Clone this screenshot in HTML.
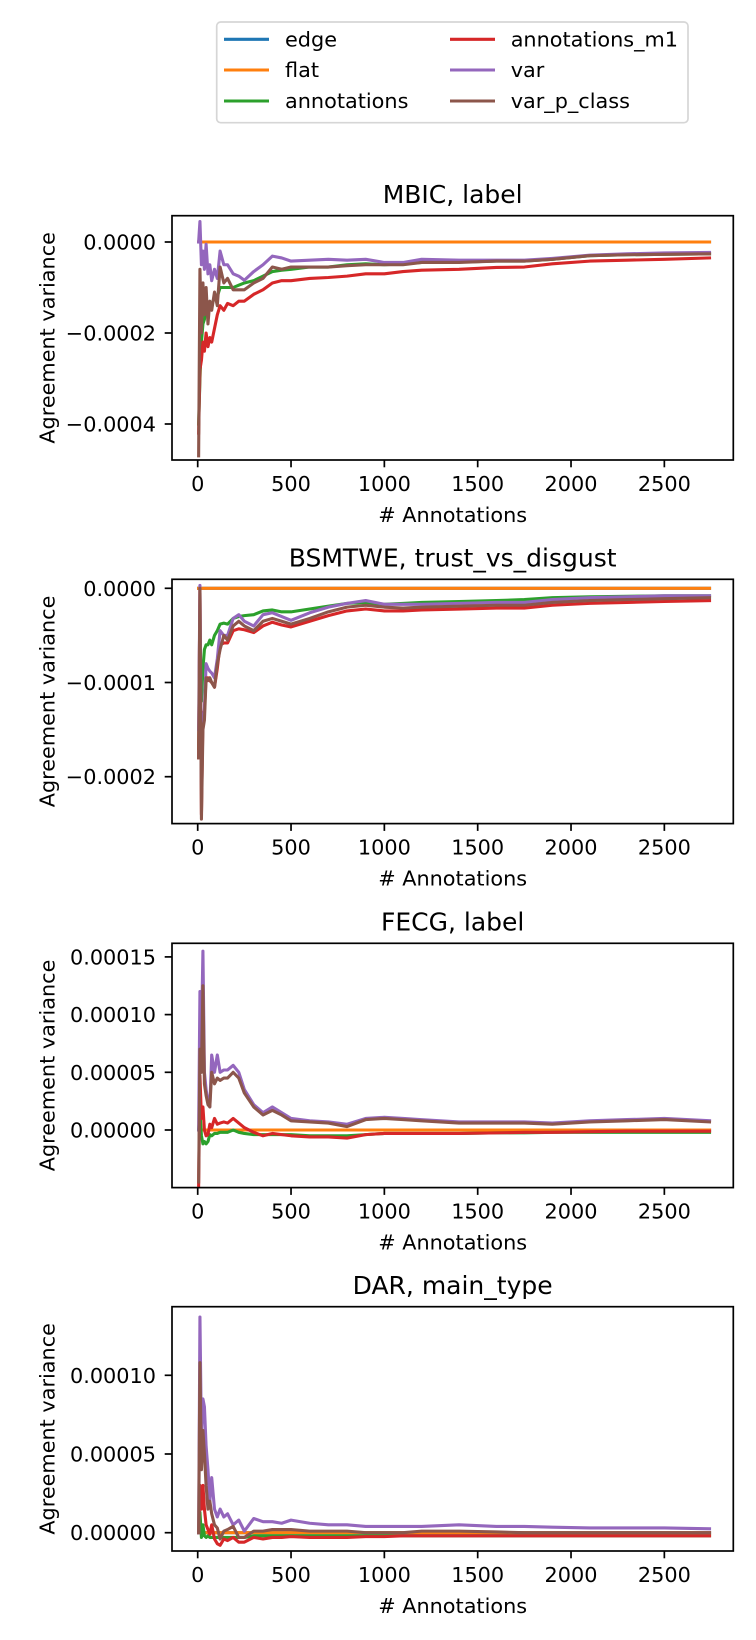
<!DOCTYPE html>
<html><head><meta charset="utf-8"><style>
html,body{margin:0;padding:0;background:#fff;}
svg{display:block;font-family:"DejaVu Sans","Liberation Sans",sans-serif;}
</style></head>
<body>
<svg id="fig" width="756" height="1640" viewBox="0 0 756 1640" xmlns="http://www.w3.org/2000/svg">
<g>
<rect x="216.7" y="22" width="471.3" height="100.7" rx="4" fill="#fff" stroke="#d6d6d6" stroke-width="1.7"/>
<g><line x1="224" y1="39.3" x2="269" y2="39.3" stroke="#1f77b4" stroke-width="3.1"/><text x="285" y="46.5" font-size="20.8">edge</text></g>
<g><line x1="224" y1="70" x2="269" y2="70" stroke="#ff7f0e" stroke-width="3.1"/><text x="285" y="77.2" font-size="20.8">flat</text></g>
<g><line x1="224" y1="101" x2="269" y2="101" stroke="#2ca02c" stroke-width="3.1"/><text x="285" y="108.2" font-size="20.8">annotations</text></g>
<g><line x1="450" y1="39.3" x2="495" y2="39.3" stroke="#d62728" stroke-width="3.1"/><text x="510.7" y="46.5" font-size="20.8">annotations_m1</text></g>
<g><line x1="450" y1="70" x2="495" y2="70" stroke="#9467bd" stroke-width="3.1"/><text x="510.7" y="77.2" font-size="20.8">var</text></g>
<g><line x1="450" y1="101" x2="495" y2="101" stroke="#8c564b" stroke-width="3.1"/><text x="510.7" y="108.2" font-size="20.8">var_p_class</text></g>
</g>
</svg>
<script>
// shared x values (# annotations)
const xs = [5,12,20,28,36,45,55,65,75,90,105,120,140,160,190,220,250,300,350,400,450,500,600,700,800,900,1000,1100,1200,1400,1600,1750,1900,2100,2300,2500,2742];
const xTicks = [0,500,1000,1500,2000,2500];
const seriesNames = ["edge","flat","annotations","annotations_m1","var","var_p_class"];
const colors = ["#1f77b4","#ff7f0e","#2ca02c","#d62728","#9467bd","#8c564b"];

// Plot 1: MBIC, label (units 1e-4)
const p1Title = "MBIC, label";
const p1Flat = xs.map(()=>0);
const p1Ann = [-4.0,-3.0,-2.2,-1.8,-1.7,-1.5,-1.6,-1.4,-1.4,-1.2,-1.2,-1.0,-1.0,-1.0,-1.0,-0.95,-0.9,-0.85,-0.75,-0.65,-0.62,-0.6,-0.55,-0.55,-0.5,-0.48,-0.5,-0.48,-0.45,-0.44,-0.42,-0.42,-0.38,-0.3,-0.28,-0.27,-0.26];
const p1AnnM1 = [-4.2,-2.8,-2.6,-2.2,-2.4,-2.0,-2.3,-2.1,-2.2,-1.9,-1.6,-1.4,-1.5,-1.35,-1.4,-1.3,-1.3,-1.15,-1.05,-0.9,-0.85,-0.85,-0.8,-0.78,-0.75,-0.7,-0.7,-0.65,-0.62,-0.6,-0.56,-0.55,-0.48,-0.42,-0.4,-0.38,-0.35];
const p1Var = [0,0.45,-0.5,-0.2,-0.6,-0.05,-0.7,-0.5,-0.85,-0.6,-0.8,-0.2,-0.5,-0.5,-0.7,-0.75,-0.84,-0.65,-0.5,-0.31,-0.35,-0.42,-0.4,-0.38,-0.4,-0.38,-0.45,-0.45,-0.38,-0.4,-0.4,-0.4,-0.36,-0.29,-0.26,-0.24,-0.23];
const p1VarP = [-4.7,-0.6,-2.0,-0.9,-1.6,-1.0,-1.8,-1.3,-1.5,-1.1,-1.4,-0.55,-0.9,-0.8,-1.05,-1.05,-1.05,-0.9,-0.8,-0.55,-0.6,-0.55,-0.55,-0.55,-0.52,-0.5,-0.5,-0.5,-0.45,-0.45,-0.42,-0.42,-0.38,-0.3,-0.28,-0.27,-0.26];
const p1YTicks = [0,-2,-4];
const p1YLabels = ["0.0000","\u22120.0002","\u22120.0004"];

// Plot 2: BSMTWE, trust_vs_disgust (units 1e-5)
const p2Title = "BSMTWE, trust_vs_disgust";
const p2Flat = xs.map(()=>0);
const p2Ann = [-17,-8,-12,-8.5,-6.5,-6,-6,-5.5,-6,-5,-4.5,-3.8,-3.7,-3.8,-3.2,-3,-2.9,-2.8,-2.4,-2.3,-2.5,-2.5,-2.2,-1.9,-1.6,-1.5,-1.7,-1.6,-1.5,-1.4,-1.3,-1.2,-1.0,-0.9,-0.85,-0.8,-0.8];
const p2AnnM1 = [-18,0,-24,-13.5,-13,-9.5,-9.5,-9.8,-10,-10.5,-8.5,-6,-5.8,-5.8,-4.5,-4.3,-4.4,-4.7,-4,-3.6,-3.9,-4.1,-3.5,-2.9,-2.4,-2.2,-2.4,-2.4,-2.3,-2.2,-2.1,-2.1,-1.8,-1.6,-1.5,-1.4,-1.3];
const p2Var = [-15,0.3,-20,-14,-13,-8,-8.5,-8.8,-9,-9.5,-7.5,-4.5,-5,-5,-3.2,-2.8,-3.5,-4,-2.8,-2.6,-3,-3.4,-2.6,-2,-1.6,-1.3,-1.7,-1.7,-1.7,-1.6,-1.5,-1.5,-1.2,-1.0,-0.9,-0.8,-0.8];
const p2VarP = [-18,0,-24.5,-15,-14,-9.5,-9.8,-9.5,-10,-10.5,-8,-6.5,-5,-5.5,-4,-3.5,-4,-4.5,-3.5,-3.2,-3.5,-3.8,-3.2,-2.5,-2,-1.8,-2,-2.1,-2,-1.9,-1.8,-1.8,-1.5,-1.3,-1.2,-1.1,-1.0];
const p2YTicks = [0,-10,-20];
const p2YLabels = ["0.0000","\u22120.0001","\u22120.0002"];

// Plot 3: FECG, label (units 1e-5)
const p3Title = "FECG, label";
const p3Flat = xs.map(()=>0);
const p3Ann = [0,1.5,-0.5,-1.2,-1.0,-1.2,-1.0,-0.4,-0.5,-0.3,-0.3,-0.2,-0.2,-0.2,0,-0.2,-0.3,-0.4,-0.4,-0.4,-0.4,-0.4,-0.5,-0.5,-0.5,-0.4,-0.3,-0.3,-0.3,-0.3,-0.25,-0.25,-0.2,-0.2,-0.2,-0.2,-0.2];
const p3AnnM1 = [-4.8,4.7,1,2,0,-0.5,-0.4,0.5,0.2,1,0.5,0.6,0.7,0.6,1,0.6,0.2,-0.2,-0.5,-0.3,-0.4,-0.5,-0.6,-0.6,-0.7,-0.4,-0.3,-0.3,-0.3,-0.3,-0.25,-0.2,-0.2,-0.15,-0.1,-0.1,-0.1];
const p3Var = [0,12,8,15.5,5,3.5,2.5,2,6.5,5,6.5,5,5.2,5.2,5.6,5,3.5,2.2,1.5,2,1.5,1,0.8,0.7,0.5,1,1.1,1.0,0.9,0.7,0.7,0.7,0.6,0.8,0.9,1.0,0.8];
const p3VarP = [-4.5,7,5,12.5,4,3,2.2,2,5,4,4.5,4.3,4.5,4.5,5,4.5,3.2,2,1.3,1.7,1.3,0.8,0.7,0.6,0.3,0.9,1,0.9,0.8,0.6,0.6,0.6,0.5,0.7,0.8,0.9,0.7];
const p3YTicks = [0,5,10,15];
const p3YLabels = ["0.00000","0.00005","0.00010","0.00015"];

// Plot 4: DAR, main_type (units 1e-5)
const p4Title = "DAR, main_type";
const p4Flat = xs.map(()=>0);
const p4Ann = [0,1.3,-0.3,0.5,-0.2,-0.3,-0.2,-0.3,-0.3,-0.3,-0.3,-0.3,-0.3,-0.3,-0.3,-0.3,-0.3,-0.2,-0.2,-0.2,-0.2,-0.2,-0.2,-0.2,-0.2,-0.2,-0.2,-0.2,-0.2,-0.2,-0.2,-0.2,-0.2,-0.2,-0.2,-0.2,-0.2];
const p4AnnM1 = [0,3,1.5,3,1.5,0.5,0.2,-0.1,0.5,-0.4,-0.7,-0.8,-0.4,-0.5,-0.3,-0.6,-0.6,-0.3,-0.4,-0.3,-0.3,-0.25,-0.3,-0.3,-0.3,-0.25,-0.25,-0.2,-0.2,-0.2,-0.2,-0.2,-0.2,-0.2,-0.2,-0.2,-0.2];
const p4Var = [0,13.7,6,8.5,8,5.5,4,2,3.5,1.5,1,1.5,1.0,1.2,0.5,0.8,0.1,0.9,0.7,0.7,0.6,0.8,0.6,0.5,0.5,0.4,0.4,0.4,0.4,0.5,0.4,0.4,0.35,0.3,0.3,0.3,0.25];
const p4VarP = [0,10.8,4,6.5,5,3,1.5,2.0,1.2,0.5,0.3,-0.4,0.1,0.2,0.4,-0.3,-0.3,0.1,0.1,0.2,0.2,0.2,0.1,0.1,0.1,0,0,0,0.1,0.1,0.05,0,0,0,0,0,0];
const p4YTicks = [0,5,10];
const p4YLabels = ["0.00000","0.00005","0.00010"];

const NS = "http://www.w3.org/2000/svg";
const svg = document.getElementById("fig");
function mk(tag, attrs, parent){const e=document.createElementNS(NS,tag);for(const k in attrs)e.setAttribute(k,attrs[k]);(parent||svg).appendChild(e);return e;}

const L=172, R=733.3, AH=244.3;
const x0px=197.7, xk=0.18666;
function xScale(v){return x0px + v*xk;}

function drawPanel(idx, top, title, series, zeroPx, unitPx, yTicks, yLabels){
  const yScale = v => zeroPx - v*unitPx;
  const bottom = top + AH;
  const g = mk("g",{});
  
  
  const clipId = "clip"+idx;
  const cp = mk("clipPath",{id:clipId},g);
  mk("rect",{x:L,y:top,width:R-L,height:AH},cp);
  const lines = mk("g",{"clip-path":"url(#"+clipId+")"},g);
  
  
  series.forEach((vals,si)=>{
    const pts = xs.map((x,i)=>xScale(x).toFixed(2)+","+yScale(vals[i]).toFixed(2)).join(" ");
    const pl = mk("polyline",{points:pts,fill:"none",stroke:colors[si],"stroke-width":3.1,"stroke-linejoin":"round","stroke-linecap":"square"},lines);
    
    
  });
  const frame = mk("rect",{x:L,y:top,width:R-L,height:AH,fill:"none",stroke:"#000","stroke-width":1.7},g);
  
  
  xTicks.forEach(t=>{
    const x=xScale(t);
    mk("line",{x1:x,y1:bottom,x2:x,y2:bottom+7.3,stroke:"#000","stroke-width":1.7},g);
    const tx=mk("text",{x:x,y:bottom+31,"font-size":20.8,"text-anchor":"middle"},g);
    tx.textContent=String(t);
    
    
  });
  yTicks.forEach((t,i)=>{
    const y=yScale(t);
    mk("line",{x1:L-7.3,y1:y,x2:L,y2:y,stroke:"#000","stroke-width":1.7},g);
    const ty=mk("text",{x:156,y:y+7.5,"font-size":20.8,"text-anchor":"end"},g);
    ty.textContent=yLabels[i];
    
    
  });
  const tt=mk("text",{x:(L+R)/2,y:top-12.7,"font-size":25,"text-anchor":"middle"},g);
  tt.textContent=title;
  
  
  const xl=mk("text",{x:(L+R)/2,y:bottom+62,"font-size":20.8,"text-anchor":"middle"},g);
  xl.textContent="# Annotations";
  
  
  const cy=top+AH/2;
  const yl=mk("text",{x:0,y:0,"font-size":20.8,"text-anchor":"middle",transform:"translate(54.5,"+cy+") rotate(-90)"},g);
  yl.textContent="Agreement variance";
  
  
}

drawPanel(1, 215.7, p1Title, [p1Flat,p1Flat,p1Ann,p1AnnM1,p1Var,p1VarP], 242, 45.5, p1YTicks, p1YLabels);
drawPanel(2, 579.3, p2Title, [p2Flat,p2Flat,p2Ann,p2AnnM1,p2Var,p2VarP], 588.3, 9.42, p2YTicks, p2YLabels);
drawPanel(3, 943.3, p3Title, [p3Flat,p3Flat,p3Ann,p3AnnM1,p3Var,p3VarP], 1130, 11.54, p3YTicks, p3YLabels);
drawPanel(4, 1306.7, p4Title, [p4Flat,p4Flat,p4Ann,p4AnnM1,p4Var,p4VarP], 1532.7, 15.74, p4YTicks, p4YLabels);
</script>
</body></html>
